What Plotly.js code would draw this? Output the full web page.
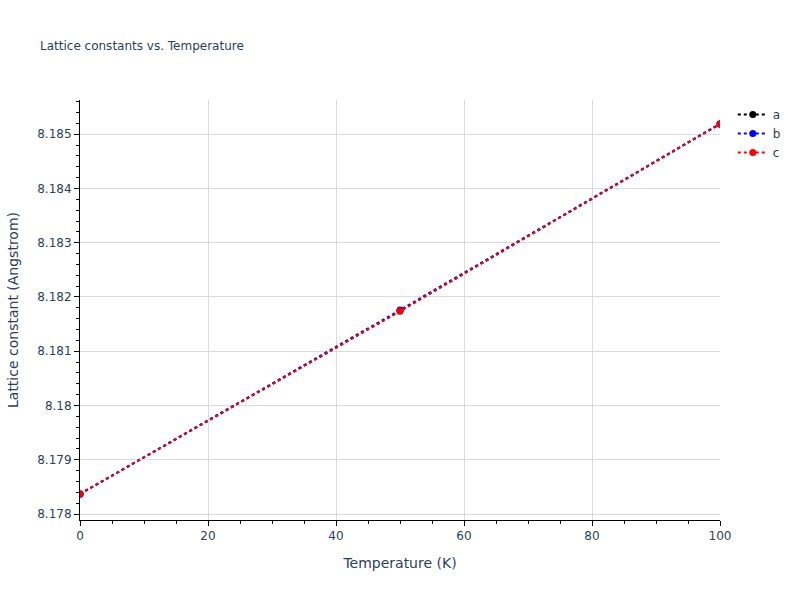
<!DOCTYPE html>
<html>
<head>
<meta charset="utf-8">
<script src="https://cdn.plot.ly/plotly-3.0.1.min.js"></script>
<style>body{margin:0;}</style>
</head>
<body>
<div id="grafik" style="width:800px;height:600px;"></div>
<script>
// temperatures (K) and lattice constants (Angstrom)
const temps = [0, 50, 100];
const latA = [8.17837, 8.18174, 8.18519];
const latB = [8.17837, 8.18176, 8.18519];
const latC = [8.17837, 8.18174, 8.18519];

const names = ["a", "b", "c"];
const colors = ["black", "blue", "red"];
const series = [latA, latB, latC];

const data = series.map((ys, i) => ({
    x: temps,
    y: ys,
    name: names[i],
    mode: "lines+markers",
    type: "scatter",
    line: { color: colors[i], dash: "dot", width: 2 },
    marker: { color: colors[i], size: 7 }
}));

const axisStyle = {
    showline: true,
    linecolor: "black",
    linewidth: 1,
    ticks: "outside",
    tickcolor: "black",
    ticklen: 5,
    gridcolor: "#dcdcdc",
    zeroline: false,
    automargin: true
};

const layout = {
    width: 800,
    height: 600,
    margin: { l: 80, r: 80, t: 100, b: 80 },
    paper_bgcolor: "white",
    plot_bgcolor: "white",
    font: { family: "Verdana, 'DejaVu Sans', sans-serif", color: "#2a3f5f", size: 12 },
    title: { text: "Lattice constants vs. Temperature", font: { size: 12 }, x: 0.05 },
    xaxis: Object.assign({}, axisStyle, {
        title: { text: "Temperature (K)", font: { size: 14 }, standoff: 15 },
        range: [0, 100],
        dtick: 20,
        minor: { ticks: "outside", ticklen: 3, tickcolor: "black", dtick: 5 }
    }),
    yaxis: Object.assign({}, axisStyle, {
        title: { text: "Lattice constant (Angstrom)", font: { size: 14 }, standoff: 15 },
        range: [8.17789, 8.18563],
        dtick: 0.001,
        minor: { ticks: "outside", ticklen: 3, tickcolor: "black", dtick: 0.0002 }
    }),
    showlegend: true
};

Plotly.newPlot("grafik", data, layout, { displayModeBar: false });
</script>
</body>
</html>
